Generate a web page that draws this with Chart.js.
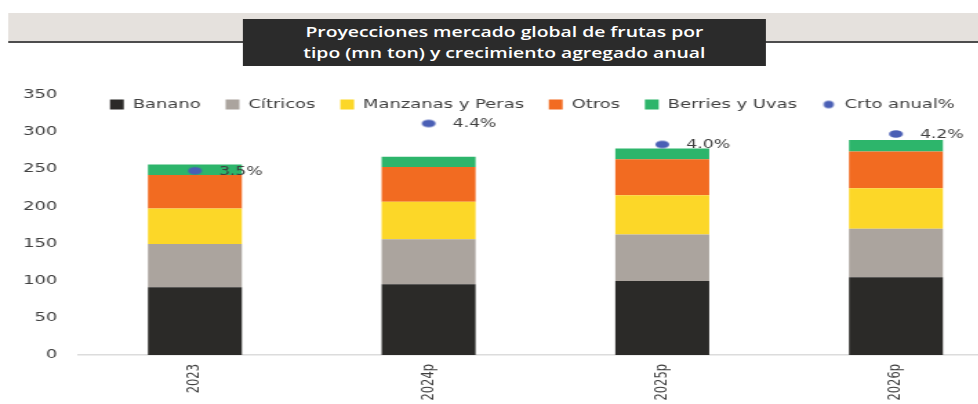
<!DOCTYPE html>
<html>
<head>
<meta charset="utf-8">
<script src="https://cdn.jsdelivr.net/npm/chart.js@4.4.1/dist/chart.umd.min.js"></script>
<style>
  html, body { margin: 0; padding: 0; background: #fff; width: 978px; height: 404px; overflow: hidden; }
  /* the reference is stretched sideways, so the whole stage is too */
  #stage { position: absolute; left: 0; top: 0; width: 740px; height: 420px; transform: scaleX(1.38); transform-origin: 0 0; }
  #chartWrap { position: absolute; left: 0; top: 0; width: 740px; height: 420px; }
  #band { position: absolute; left: 6px; top: 13px; width: 703px; height: 28px; background: #e5e1dd; border-bottom: 2px solid #4d4d4d; }
  #titleBox { position: absolute; left: 176px; top: 19px; width: 379px; height: 47px; background: #2b2b2b; color: #fff;
    font-family: "Open Sans", sans-serif; font-weight: 600; font-size: 14px; line-height: 21px; text-align: center; padding-top: 2px; box-sizing: border-box; }
</style>
</head>
<body>
<div id="stage">
  <div id="chartWrap"><canvas id="myChart"></canvas></div>
  <div id="band"></div>
  <div id="titleBox">Proyecciones mercado global de frutas por<br>tipo (mn ton) y crecimiento agregado anual</div>
</div>
<script>
const years = ["2023", "2024p", "2025p", "2026p"];

const banano = [91, 95, 99.5, 104.5];
const citricos = [58, 60.5, 62.5, 65];
const manzanas = [48, 50.5, 52.5, 54.5];
const otros = [45, 46.5, 48.5, 49.5];
const berries = [14, 14, 14.5, 15.5];
const crtoAnual = [3.5, 4.4, 4.0, 4.2];

const yTicks = [0, 50, 100, 150, 200, 250, 300, 350];

const TEXT = "#404040";
const FONT = "'DejaVu Sans', Verdana, sans-serif";
const DOT = "#4a5fb5";

// small dot images (legend one is smaller than the chart ones)
function makeDot(w, h, rx, ry) {
    const c = document.createElement("canvas");
    c.width = w;
    c.height = h;
    const g = c.getContext("2d");
    g.fillStyle = DOT;
    g.beginPath();
    g.ellipse(w / 2, h / 2, rx, ry, 0, 0, Math.PI * 2);
    g.fill();
    return c;
}
const legendDot = makeDot(10, 10, 3.7, 3.7);
const pointDot = makeDot(12, 10, 5, 3.8);

function barSet(label, data, color) {
    return {
        type: "bar",
        label: label,
        data: data,
        backgroundColor: color,
        borderWidth: 0,
        stack: "s",
        yAxisID: "y",
        categoryPercentage: 1,
        barPercentage: 0.402,
        order: 1
    };
}

// percent labels next to the dots
const pctLabels = {
    id: "pctLabels",
    afterDatasetsDraw(chart) {
        const meta = chart.getDatasetMeta(5);
        const ctx = chart.ctx;
        ctx.save();
        ctx.font = "12.5px " + FONT;
        ctx.fillStyle = TEXT;
        ctx.textAlign = "left";
        ctx.textBaseline = "middle";
        meta.data.forEach((pt, i) => {
            ctx.fillText(crtoAnual[i].toFixed(1) + "%", pt.x + 17.4, pt.y + 0.5);
        });
        ctx.restore();
    }
};

// legend sits inside the plot area in the reference
const LEGEND_PAD = 18;
const legendMove = {
    id: "legendMove",
    afterLayout(chart) {
        const lg = chart.legend;
        lg.left = 79.7 - LEGEND_PAD;
        lg.right = 740;
        lg.top = 98 - LEGEND_PAD;
        lg.bottom = 130;
        lg.height = lg.bottom - lg.top;
    }
};

new Chart(document.getElementById("myChart"), {
    data: {
        labels: years,
        datasets: [
            barSet("Banano", banano, "#2b2a28"),
            barSet("Cítricos", citricos, "#aba49e"),
            barSet("Manzanas y Peras", manzanas, "#fcd728"),
            barSet("Otros", otros, "#f26b21"),
            barSet("Berries y Uvas", berries, "#2db56b"),
            {
                type: "line",
                label: "Crto anual%",
                data: crtoAnual,
                yAxisID: "y1",
                showLine: false,
                pointStyle: pointDot,
                pointRadius: 5,
                backgroundColor: DOT,
                borderColor: DOT,
                order: 0
            }
        ]
    },
    options: {
        responsive: true,
        maintainAspectRatio: false,
        animation: false,
        layout: { padding: { top: 93.5, right: 6.1, left: 0, bottom: 0 } },
        plugins: {
            tooltip: { enabled: false },
            legend: {
                position: "top",
                align: "start",
                maxHeight: 1,
                labels: {
                    usePointStyle: true,
                    boxWidth: 10,
                    boxHeight: 10,
                    padding: LEGEND_PAD,
                    color: TEXT,
                    font: { family: FONT, size: 13 },
                    sort: (a, b) => a.datasetIndex - b.datasetIndex,
                    generateLabels(chart) {
                        const items = Chart.defaults.plugins.legend.labels.generateLabels(chart);
                        items.forEach(it => {
                            it.pointStyle = it.datasetIndex === 5 ? legendDot : "rect";
                            it.lineWidth = 0;
                        });
                        return items;
                    }
                }
            }
        },
        scales: {
            x: {
                stacked: true,
                grid: { display: false, drawTicks: false },
                border: { display: true, color: "#dcdcdc", width: 1.5 },
                ticks: {
                    color: TEXT,
                    font: { family: FONT, size: 11.5 },
                    minRotation: 90,
                    maxRotation: 90,
                    padding: 9
                },
                afterFit(scale) { scale.height = 65; }
            },
            y: {
                stacked: true,
                min: 0,
                max: 350,
                grid: { display: false, drawTicks: false },
                border: { display: false },
                afterBuildTicks(scale) { scale.ticks = yTicks.map(v => ({ value: v })); },
                ticks: {
                    color: TEXT,
                    font: { family: FONT, size: 13 },
                    padding: 15
                },
                afterFit(scale) { scale.width = 56.6; }
            },
            y1: {
                display: false,
                min: 0,
                max: 4.95
            }
        }
    },
    plugins: [pctLabels, legendMove]
});
</script>
</body>
</html>
